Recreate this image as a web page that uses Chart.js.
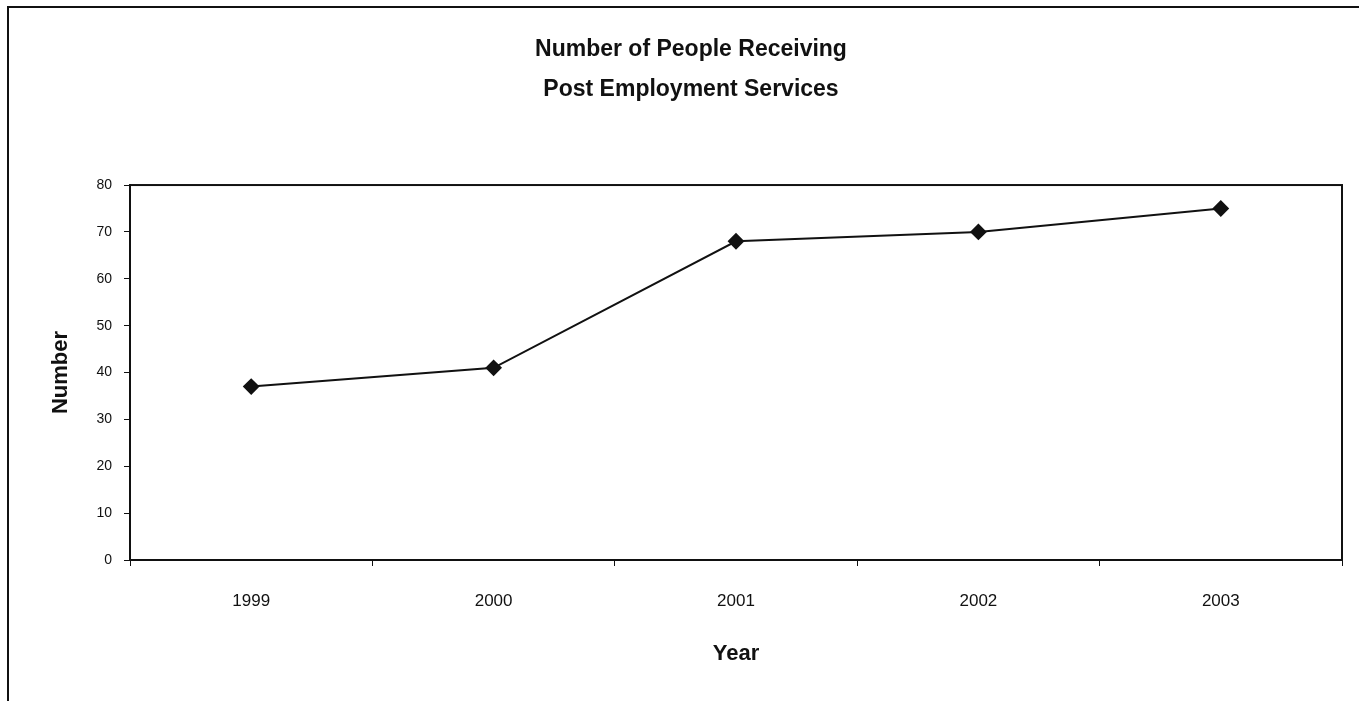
<!DOCTYPE html>
<html>
<head>
<meta charset="utf-8">
<script src="https://cdn.jsdelivr.net/npm/chart.js@4"></script>
<style>
  html, body { margin: 0; padding: 0; background: #fff; }
  #wrap { position: relative; width: 1359px; height: 701px; }
</style>
</head>
<body>
<div id="wrap"><canvas id="chart" width="1359" height="701"></canvas></div>
<script>
const years = ['1999', '2000', '2001', '2002', '2003'];
const people = [37, 41, 68, 70, 75];
const titleLines = ['Number of People Receiving', 'Post Employment Services'];

const ink = '#111';

// top and left edge of the figure frame plus the box round the plot
const frames = {
    id: 'frames',
    afterDraw(c) {
        const ctx = c.ctx;
        const a = c.chartArea;
        ctx.save();
        ctx.strokeStyle = ink;
        ctx.lineWidth = 2;
        ctx.beginPath();
        ctx.moveTo(8, 701);
        ctx.lineTo(8, 7);
        ctx.lineTo(1359, 7);
        ctx.stroke();
        ctx.strokeRect(a.left, a.top, a.right - a.left, a.bottom - a.top);
        ctx.restore();
    }
};

new Chart(document.getElementById('chart'), {
    type: 'line',
    data: {
        labels: years,
        datasets: [{
            data: people,
            borderColor: ink,
            borderWidth: 2,
            pointStyle: 'rectRot',
            pointRadius: 7,
            pointBackgroundColor: ink,
            pointBorderColor: ink,
            tension: 0
        }]
    },
    options: {
        responsive: false,
        animation: false,
        layout: { padding: { left: 40, right: 17, top: 0, bottom: 30 } },
        plugins: {
            legend: { display: false },
            tooltip: { enabled: false },
            title: {
                display: true,
                text: titleLines,
                color: ink,
                font: { family: 'Liberation Sans, Arial', size: 23, weight: 'bold', lineHeight: 1.74 },
                padding: { top: 30, bottom: 75 }
            }
        },
        scales: {
            x: {
                offset: true,
                grid: { offset: true, drawOnChartArea: false, tickLength: 6, color: ink, lineWidth: 1 },
                border: { color: ink, width: 2 },
                ticks: { color: ink, padding: 25, font: { family: 'Liberation Sans, Arial', size: 17 } },
                title: {
                    display: true,
                    text: 'Year',
                    color: ink,
                    font: { family: 'Liberation Sans, Arial', size: 22, weight: 'bold' },
                    padding: { top: 0 }
                },
                afterFit(s) { s.height = 111; }
            },
            y: {
                min: 0,
                max: 80,
                grid: { drawOnChartArea: false, tickLength: 6, color: ink, lineWidth: 1 },
                border: { color: ink, width: 2 },
                ticks: { stepSize: 10, color: ink, padding: 12, font: { family: 'Liberation Sans, Arial', size: 14 } },
                title: {
                    display: true,
                    text: 'Number',
                    color: ink,
                    font: { family: 'Liberation Sans, Arial', size: 22, weight: 'bold' },
                    padding: { top: 8 }
                },
                afterFit(s) { s.width = 90; }
            }
        }
    },
    plugins: [frames]
});
</script>
</body>
</html>
